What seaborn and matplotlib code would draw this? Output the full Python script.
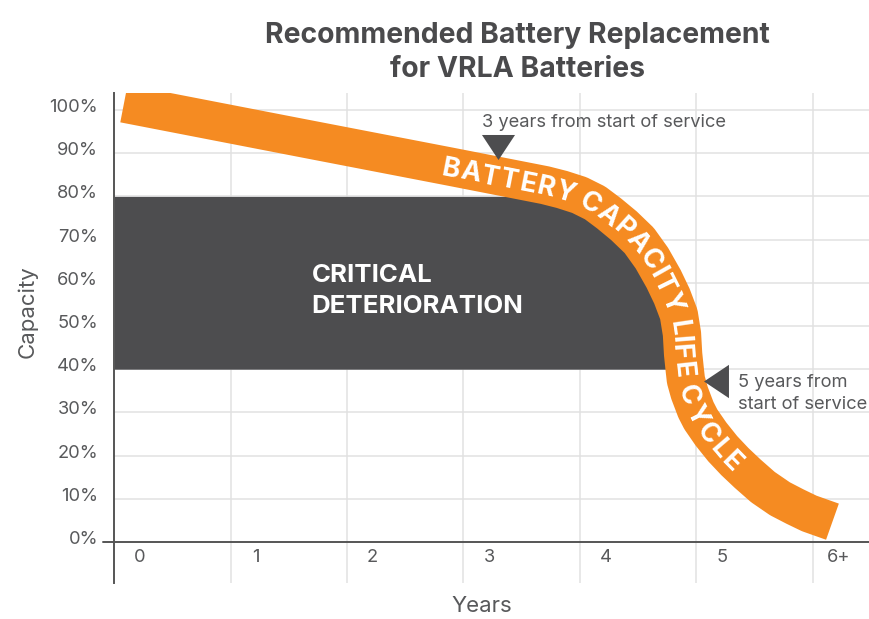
import numpy as np
import matplotlib
matplotlib.use("Agg")
import matplotlib.pyplot as plt
import matplotlib.transforms as mtransforms
from matplotlib.font_manager import FontProperties
import seaborn as sns

# ====== DATA ======
YEAR_LABELS = ["0", "1", "2", "3", "4", "5", "6+"]
CAPACITY_TICKS = [0, 10, 20, 30, 40, 50, 60, 70, 80, 90, 100]

# centre line of the orange life-cycle band (years, capacity %)
LIFE_YEARS = [0.083, 1.595, 2.884, 3.700, 3.846, 3.996, 4.130, 4.249, 4.379, 4.510,
              4.619, 4.720, 4.791, 4.850, 4.877, 4.887, 4.903, 4.911, 4.942, 4.997,
              5.039, 5.126, 5.227, 5.332, 5.442, 5.573, 5.719, 5.848, 5.971, 6.170]
LIFE_CAPACITY = [101.5, 93.6, 86.9, 82.6, 81.6, 80.3, 78.5, 76.1, 73.2, 69.8,
                 65.7, 60.9, 56.9, 52.7, 48.2, 43.5, 39.4, 37.5, 34.5, 30.6,
                 28.4, 25.0, 21.6, 18.6, 15.8, 12.7, 10.0, 8.2, 6.6, 4.7]

CRITICAL_RANGE = [40, 80]          # capacity band of critical deterioration
MARKER_YEARS = [3.30, 5.17]        # 3 years / 5 years pointers
MARKER_CAPACITY = [91.5, 37.3]
BAND_TEXT = "BATTERY CAPACITY LIFE CYCLE"
BAND_TEXT_SPAN = [2.81, 5.37]      # years where the band text starts / ends
# ==================

ORANGE = "#F58B22"
DARK = "#4D4D4F"
TEXT = "#58595B"
TITLE = "#4A4A4C"
GRID = "#E1E1E1"
AXIS = "#555555"

sns.set_theme(style="white")
plt.rcParams["font.family"] = ["Inter", "DejaVu Sans"]

fig = plt.figure(figsize=(8.69, 6.19), dpi=100)
ax = fig.add_axes([0.1315, 0.0582, 0.8685, 0.7916])
ax.set_xlim(0, 6.484)
ax.set_ylim(-9.49, 103.94)
ax.set_axisbelow(True)

# grid + ticks
ax.set_xticks(range(len(YEAR_LABELS)), [""] * len(YEAR_LABELS))
ax.set_xticks(np.arange(len(YEAR_LABELS)) + 0.22, YEAR_LABELS, minor=True)
ax.set_yticks(CAPACITY_TICKS, [f"{v}%" for v in CAPACITY_TICKS])
ax.grid(True, which="major", color=GRID, linewidth=1.1)
ax.tick_params(axis="x", which="both", length=0)
ax.tick_params(axis="x", which="minor", pad=-24.5, labelsize=13.2, labelcolor=TEXT)
ax.tick_params(axis="y", length=5.8, width=1.1, color=GRID, pad=5.8,
               labelsize=13.2, labelcolor=TEXT)
for sp in ["top", "right", "bottom"]:
    ax.spines[sp].set_visible(False)
ax.spines["left"].set_color(AXIS)
ax.spines["left"].set_linewidth(1.4)
ax.axhline(0, xmin=-0.015, xmax=1, color=AXIS, linewidth=1.4, clip_on=False, zorder=4)

# critical deterioration block, right edge hidden under the band
xx = np.array(LIFE_YEARS)
yy = np.array(LIFE_CAPACITY)
lo, hi = CRITICAL_RANGE
mask = (yy > lo) & (yy < hi)
edge_y = np.concatenate([[lo], yy[mask][::-1], [hi]])
edge_x = np.concatenate([[np.interp(lo, yy[::-1], xx[::-1])], xx[mask][::-1],
                         [np.interp(hi, yy[::-1], xx[::-1])]])
ax.fill_betweenx(edge_y, 0, edge_x, color=DARK, linewidth=0, zorder=2)

# orange life-cycle band
sns.lineplot(x=LIFE_YEARS, y=LIFE_CAPACITY, sort=False, estimator=None, ax=ax,
             color=ORANGE, linewidth=27.6, solid_capstyle="butt",
             solid_joinstyle="round", zorder=3)

# pointers
tri_down = [(-16.5, 12.5), (16.5, 12.5), (0, -12.5)]
tri_left = [(-12.5, 0), (12.5, 16.7), (12.5, -16.7)]
ax.scatter(MARKER_YEARS[:1], MARKER_CAPACITY[:1], marker=tri_down, s=23.8 ** 2,
           color=DARK, linewidth=0, zorder=5)
ax.scatter(MARKER_YEARS[1:], MARKER_CAPACITY[1:], marker=tri_left, s=24.0 ** 2,
           color=DARK, linewidth=0, zorder=5)

ax.text(3.156, 96.1, "3 years from start of service", fontsize=13.2, color=TEXT,
        ha="left", va="baseline")
ax.text(5.356, 35.95, "5 years from", fontsize=13.2, color=TEXT, ha="left", va="baseline")
ax.text(5.356, 30.7, "start of service", fontsize=13.2, color=TEXT, ha="left", va="baseline")

ax.text(1.696, 60.26, "CRITICAL", fontsize=18.6, weight="bold", color="white",
        ha="left", va="baseline", zorder=4)
ax.text(1.696, 52.9, "DETERIORATION", fontsize=18.6, weight="bold", color="white",
        ha="left", va="baseline", zorder=4)

# labels and title
ax.set_ylabel("Capacity", fontsize=16, color=TEXT)
ax.yaxis.set_label_coords(-0.101, 0.554)
ax.set_xlabel("Years", fontsize=16, color=TEXT)
ax.xaxis.set_label_coords(0.487, -0.027)
fig.text(0.595, 1 - 42.9 / 619, "Recommended Battery Replacement", ha="center",
         va="baseline", fontsize=20.4, weight="bold", color=TITLE)
fig.text(0.595, 1 - 76.8 / 619, "for VRLA Batteries", ha="center",
         va="baseline", fontsize=20.4, weight="bold", color=TITLE)

# shift y tick labels a little above their grid lines
shift = mtransforms.ScaledTranslation(0, 0.045, fig.dpi_scale_trans)
for lab in ax.get_yticklabels():
    lab.set_transform(lab.get_transform() + shift)

# ---- text following the band ----
renderer = fig.canvas.get_renderer()
pts = ax.transData.transform(np.column_stack([xx, yy]))
seg = np.diff(pts, axis=0)
seg_len = np.hypot(seg[:, 0], seg[:, 1])
cum = np.concatenate([[0], np.cumsum(seg_len)])


def arc_of(year):
    p = ax.transData.transform((year, np.interp(year, xx, yy)))
    best, best_s = None, 0
    for i in range(len(seg)):
        t = np.clip(np.dot(p - pts[i], seg[i]) / seg_len[i] ** 2, 0, 1)
        d = np.hypot(*(pts[i] + t * seg[i] - p))
        if best is None or d < best:
            best, best_s = d, cum[i] + t * seg_len[i]
    return best_s


def point_at(s):
    return np.array([np.interp(s, cum, pts[:, 0]), np.interp(s, cum, pts[:, 1])])


band_size = 19.6
prop = FontProperties(family=["Inter", "DejaVu Sans"], weight="bold", size=band_size)
width = lambda s: renderer.get_text_width_height_descent(s, prop, ismath=False)[0]
total = width(BAND_TEXT)
s0, s1 = arc_of(BAND_TEXT_SPAN[0]), arc_of(BAND_TEXT_SPAN[1])
k = (s1 - s0) / total
cap_h = band_size / 72 * fig.dpi * 0.727
inv = ax.transData.inverted()
for i, ch in enumerate(BAND_TEXT):
    if ch == " ":
        continue
    c = width(BAND_TEXT[:i + 1]) - width(ch) / 2
    s = s0 + c * k
    p = point_at(s)
    d = point_at(s + 9) - point_at(s - 9)
    tang = d / np.hypot(*d)
    up = np.array([-tang[1], tang[0]])
    anchor = inv.transform(p - up * cap_h / 2)
    ang = np.degrees(np.arctan2(tang[1], tang[0]))
    ax.text(anchor[0], anchor[1], ch, fontproperties=prop, color="white",
            rotation=ang, rotation_mode="anchor", ha="center", va="baseline", zorder=6)

fig.savefig("out.png", dpi=100)
